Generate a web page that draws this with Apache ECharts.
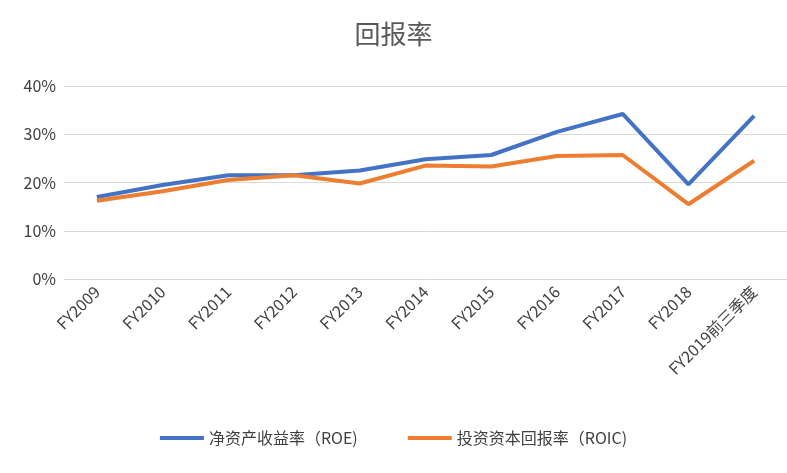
<!DOCTYPE html>
<html><head><meta charset="utf-8">
<script src="https://cdn.jsdelivr.net/npm/echarts@6/dist/echarts.min.js"></script>
<style>html,body{margin:0;padding:0;background:#fff}#c{width:787px;height:473px}</style>
</head><body><div id="c"></div>
<script>
const categories = ['FY2009','FY2010','FY2011','FY2012','FY2013','FY2014','FY2015','FY2016','FY2017','FY2018','FY2019前三季度'];
const roe = [17.0, 19.5, 21.5, 21.5, 22.5, 24.8, 25.7, 30.5, 34.2, 19.6, 33.8];
const roic = [16.2, 18.2, 20.5, 21.5, 19.8, 23.5, 23.3, 25.5, 25.7, 15.5, 24.5];
const chart = echarts.init(document.getElementById('c'));
const font = '"Noto Sans CJK SC", sans-serif';
chart.setOption({
  animation:false,
  title:{text:'回报率',left:'center',top:16,textStyle:{fontFamily:font,fontSize:26,fontWeight:'normal',color:'#595959'}},
  legend:{bottom:22,itemWidth:44,itemHeight:4,itemGap:50,icon:'rect',textStyle:{fontFamily:font,fontSize:16,color:'#404040'}},
  grid:{left:64,right:0,top:86,bottom:194},
  xAxis:{type:'category',data:categories,axisTick:{show:false},axisLine:{lineStyle:{color:'#d9d9d9'}},
    axisLabel:{rotate:45,fontFamily:font,fontSize:16,color:'#404040',margin:10}},
  yAxis:{type:'value',min:0,max:40,interval:10,axisLabel:{formatter:'{value}%',fontFamily:font,fontSize:16,color:'#404040'},
    splitLine:{lineStyle:{color:'#d9d9d9'}}},
  series:[
    {name:'净资产收益率（ROE)',type:'line',data:roe,symbol:'none',lineStyle:{width:4,color:'#4472c4'},itemStyle:{color:'#4472c4'}},
    {name:'投资资本回报率（ROIC)',type:'line',data:roic,symbol:'none',lineStyle:{width:4,color:'#ed7d31'},itemStyle:{color:'#ed7d31'}}
  ]
});
</script></body></html>
